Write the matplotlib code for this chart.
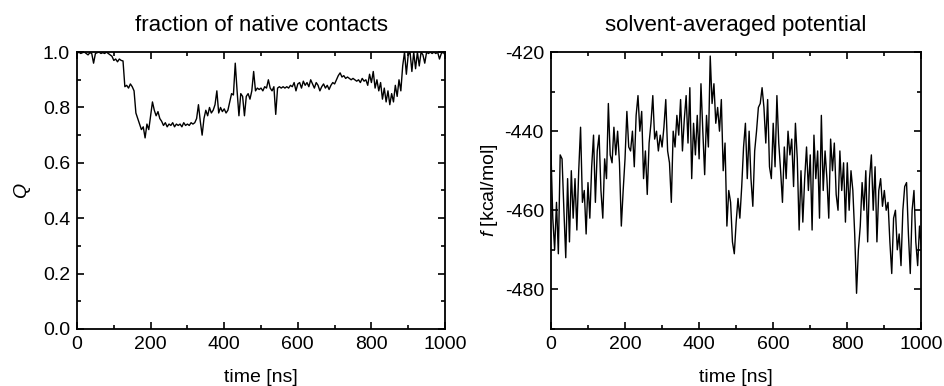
import numpy as np
import matplotlib
matplotlib.use("Agg")
import matplotlib.pyplot as plt
from matplotlib.ticker import MultipleLocator, FormatStrFormatter

plt.rcParams["font.family"] = ["Liberation Sans", "DejaVu Sans"]
plt.rcParams["font.size"] = 14
plt.rcParams["axes.unicode_minus"] = False
plt.rcParams["mathtext.fontset"] = "custom"
plt.rcParams["mathtext.it"] = "Liberation Sans:italic"
plt.rcParams["mathtext.rm"] = "Liberation Sans"

# fraction of native contacts, one value every 5 ns
q_vals = [
    0.995, 1.0, 0.995, 0.998, 1.0, 0.995, 0.99, 0.998, 0.995, 0.96,
    0.995, 0.998, 1.0, 0.995, 0.998, 0.995, 1.0, 0.995, 0.99, 0.985,
    0.97, 0.975, 0.965, 0.975, 0.97, 0.968, 0.875, 0.88, 0.87, 0.885,
    0.875, 0.86, 0.78, 0.76, 0.74, 0.72, 0.73, 0.69, 0.74, 0.72,
    0.77, 0.82, 0.79, 0.77, 0.785, 0.76, 0.75, 0.735, 0.745, 0.73,
    0.74, 0.735, 0.745, 0.73, 0.74, 0.735, 0.74, 0.73, 0.745, 0.735,
    0.74, 0.735, 0.745, 0.74, 0.745, 0.76, 0.81, 0.75, 0.70, 0.76,
    0.79, 0.77, 0.80, 0.78, 0.79, 0.81, 0.86, 0.78, 0.80, 0.785,
    0.795, 0.78, 0.79, 0.82, 0.85, 0.845, 0.96, 0.86, 0.77, 0.85,
    0.84, 0.77, 0.84, 0.85, 0.83, 0.86, 0.93, 0.86, 0.87, 0.865,
    0.87, 0.86, 0.875, 0.87, 0.90, 0.87, 0.86, 0.875, 0.775, 0.87,
    0.875, 0.87, 0.875, 0.87, 0.875, 0.87, 0.88, 0.875, 0.89, 0.86,
    0.885, 0.89, 0.87, 0.895, 0.88, 0.89, 0.875, 0.90, 0.885, 0.87,
    0.89, 0.88, 0.86, 0.875, 0.885, 0.87, 0.88, 0.865, 0.88, 0.89,
    0.885, 0.90, 0.915, 0.925, 0.91, 0.915, 0.905, 0.91, 0.905, 0.90,
    0.905, 0.90, 0.895, 0.90, 0.89, 0.905, 0.895, 0.90, 0.88, 0.92,
    0.89, 0.93, 0.87, 0.90, 0.86, 0.89, 0.83, 0.87, 0.82, 0.86,
    0.81, 0.85, 0.82, 0.88, 0.84, 0.90, 0.86, 0.95, 1.0, 0.92,
    0.99, 1.0, 0.93, 1.0, 0.94, 1.0, 0.95, 1.0, 0.99, 0.96,
    1.0, 0.995, 1.0, 0.995, 1.0, 0.995, 1.0, 0.975, 0.995, 1.0,
    0.99,
]

# solvent-averaged potential in kcal/mol, one value every 5 ns
f_vals = [
    -445, -462, -470, -458, -471, -446, -447, -460, -472, -452,
    -468, -450, -462, -452, -465, -450, -439, -458, -455, -466,
    -453, -462, -449, -441, -458, -445, -441, -455, -462, -447,
    -452, -433, -446, -448, -439, -446, -440, -448, -464, -455,
    -447, -435, -444, -445, -440, -449, -436, -431, -440, -435,
    -452, -445, -456, -443, -438, -431, -442, -440, -445, -441,
    -444, -439, -432, -445, -448, -458, -440, -444, -436, -441,
    -432, -445, -437, -431, -443, -429, -452, -438, -446, -436,
    -447, -428, -440, -451, -436, -444, -421, -433, -428, -438,
    -434, -440, -432, -450, -443, -464, -455, -458, -468, -471,
    -463, -457, -462, -454, -444, -438, -452, -440, -452, -459,
    -445, -440, -434, -433, -429, -434, -443, -432, -449, -452,
    -438, -449, -431, -443, -450, -458, -444, -452, -440, -446,
    -442, -454, -438, -447, -465, -450, -463, -452, -444, -455,
    -446, -465, -441, -452, -445, -462, -436, -455, -445, -452,
    -462, -442, -450, -443, -456, -460, -445, -455, -448, -463,
    -448, -460, -450, -455, -466, -481, -470, -464, -453, -460,
    -450, -468, -452, -446, -460, -449, -468, -455, -452, -459,
    -455, -460, -458, -468, -476, -462, -460, -470, -466, -474,
    -460, -454, -453, -466, -476, -460, -455, -468, -474, -464,
    -470,
]

t_q = np.linspace(0, 1000, len(q_vals))
t_f = np.linspace(0, 1000, len(f_vals))

fig = plt.figure(figsize=(9.45, 3.86), dpi=100)
ax1 = fig.add_axes([0.0815, 0.148, 0.3894, 0.717])
ax2 = fig.add_axes([0.583, 0.148, 0.392, 0.717])

ax1.plot(t_q, q_vals, color="black", lw=1.0)
ax1.set_xlim(0, 1000)
ax1.set_ylim(0, 1.0)
ax1.yaxis.set_major_locator(MultipleLocator(0.2))
ax1.yaxis.set_minor_locator(MultipleLocator(0.1))
ax1.yaxis.set_major_formatter(FormatStrFormatter("%.1f"))
ax1.set_ylabel(r"$Q$", labelpad=7)
ax1.set_title("fraction of native contacts", pad=15, fontsize=16)

ax2.plot(t_f, f_vals, color="black", lw=1.0)
ax2.set_xlim(0, 1000)
ax2.set_ylim(-490, -420)
ax2.yaxis.set_major_locator(MultipleLocator(20))
ax2.yaxis.set_minor_locator(MultipleLocator(10))
ax2.set_ylabel(r"$f$ [kcal/mol]", labelpad=3)
ax2.set_title("solvent-averaged potential", pad=15, fontsize=16)

for ax in (ax1, ax2):
    ax.set_xlabel("time [ns]", labelpad=12)
    ax.xaxis.set_major_locator(MultipleLocator(200))
    ax.xaxis.set_minor_locator(MultipleLocator(100))
    ax.tick_params(which="both", direction="in", top=True, right=True, width=1.2, pad=5)
    ax.tick_params(which="major", length=5)
    ax.tick_params(which="minor", length=3)
    for s in ax.spines.values():
        s.set_linewidth(1.3)

fig.savefig("out.png", dpi=100)
